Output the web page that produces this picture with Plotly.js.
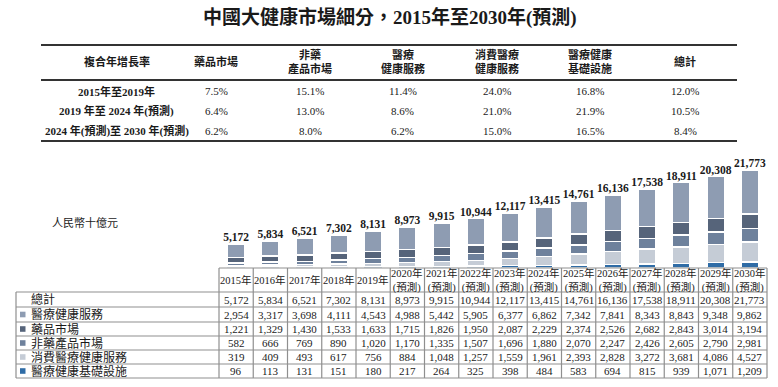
<!DOCTYPE html>
<html>
<head>
<meta charset="utf-8">
<script src="https://cdn.plot.ly/plotly-3.0.1.min.js"></script>
<style>html,body{margin:0;padding:0;background:#fff;}#chart{width:778px;height:387px;}</style>
</head>
<body>
<div id="chart"></div>
<script>
// ---------- DATA ----------
const years = ['2015年','2016年','2017年','2018年','2019年','2020年','2021年','2022年','2023年','2024年','2025年','2026年','2027年','2028年','2029年','2030年'];
const yearHeaders = ['2015年','2016年','2017年','2018年','2019年','2020年<br>(預測)','2021年<br>(預測)','2022年<br>(預測)','2023年<br>(預測)','2024年<br>(預測)','2025年<br>(預測)','2026年<br>(預測)','2027年<br>(預測)','2028年<br>(預測)','2029年<br>(預測)','2030年<br>(預測)'];
const total        = [5172,5834,6521,7302,8131,8973,9915,10944,12117,13415,14761,16136,17538,18911,20308,21773];
const healthService= [2954,3317,3698,4111,4543,4988,5442,5905,6377,6862,7342,7841,8343,8843,9348,9862];
const pharma       = [1221,1329,1430,1533,1633,1715,1826,1950,2087,2229,2374,2526,2682,2843,3014,3194];
const nonPharma    = [582,666,769,890,1020,1170,1335,1507,1696,1880,2070,2247,2426,2605,2790,2981];
const consumer     = [319,409,493,617,756,884,1048,1257,1559,1961,2393,2828,3272,3681,4086,4527];
const infra        = [96,113,131,151,180,217,264,325,398,484,583,694,815,939,1071,1209];
const seriesNames  = ['醫療健康服務','藥品市場','非藥產品市場','消費醫療健康服務','醫療健康基礎設施'];
const totalLabel   = '總計';
const title = '中國大健康市場細分，2015年至2030年(預測)';
const unitLabel = '人民幣十億元';

const cagrHeaders = ['複合年增長率','藥品市場','非藥<br>產品市場','醫療<br>健康服務','消費醫療<br>健康服務','醫療健康<br>基礎設施','總計'];
const cagrPeriods = ['2015年至2019年','2019 年至 2024 年(預測)','2024 年(預測)至 2030 年(預測)'];
const cagr2015_2019 = ['7.5%','15.1%','11.4%','24.0%','16.8%','12.0%'];
const cagr2019_2024 = ['6.4%','13.0%','8.6%','21.0%','21.9%','10.5%'];
const cagr2024_2030 = ['6.2%','8.0%','6.2%','15.0%','16.5%','8.4%'];

// ---------- STYLE ----------
const colors = {hs:'#8e9cb2', ph:'#56647a', np:'#6e819c', cs:'#c5ccd6', inf:'#2f6ca6'};
const SERIF = 'Liberation Serif, "Noto Sans CJK TC", serif';
const W = 778, H = 387;
const px = x => x / W;
const py = y => 1 - y / H;

// table geometry
const colL = 219, colR = 767, nCol = years.length, colW = (colR - colL) / nCol;
const labL = 16;
const hdrTop = 268, rowYs = [292, 307, 322, 336, 350, 364, 378];
const gridColor = '#8f8f8f';

const shapes = [];
const annotations = [];
function hline(x0, x1, y, w, c) { shapes.push({type:'line', xref:'paper', yref:'paper', x0:px(x0), x1:px(x1), y0:py(y), y1:py(y), line:{color:c||gridColor, width:w||1}}); }
function vline(x, y0, y1, w, c) { shapes.push({type:'line', xref:'paper', yref:'paper', x0:px(x), x1:px(x), y0:py(y0), y1:py(y1), line:{color:c||gridColor, width:w||1}}); }
function text(t, x, y, opt) {
  opt = opt || {};
  annotations.push({text:t, xref:'paper', yref:'paper', x:px(x), y:py(y), xanchor:opt.xa||'center', yanchor:'middle', showarrow:false,
    font:{family:SERIF, size:opt.size||11, color:opt.color||'#1a1a1a', weight:opt.bold?'bold':'normal'}});
}

// Title
text(title, 390, 18, {size:19, bold:true});

// CAGR table
hline(41, 737, 45, 2.2, '#333');
hline(41, 737, 80, 2.2, '#333');
hline(41, 737, 141, 2.2, '#333');
const cagrX = [117, 216, 310, 403, 497, 590, 685];
cagrHeaders.forEach((h, i) => text(h, cagrX[i], 62, {bold:true, size:11}));
const cagrRows = [cagr2015_2019, cagr2019_2024, cagr2024_2030];
const cagrY = [91, 111, 131];
cagrPeriods.forEach((p, r) => {
  text(p, cagrX[0], cagrY[r], {bold:true, size:11});
  cagrRows[r].forEach((v, i) => text(v, cagrX[i + 1], cagrY[r], {size:11}));
});

// unit label
text(unitLabel, 50, 222, {xa:'left', size:11});

// data table grid
hline(colL, colR, hdrTop, 1.2);
rowYs.forEach(y => hline(labL, colR, y, 1.2));
for (let i = 0; i <= nCol; i++) vline(colL + i * colW, hdrTop, rowYs[rowYs.length - 1], 1.2);
vline(labL, rowYs[0], rowYs[rowYs.length - 1], 1.2);

// header row
yearHeaders.forEach((h, i) => text(h, colL + colW * (i + 0.5), 280, {size:10.5}));

// table rows
const tableRows = [
  {name: totalLabel, vals: total, color: null},
  {name: seriesNames[0], vals: healthService, color: colors.hs},
  {name: seriesNames[1], vals: pharma, color: colors.ph},
  {name: seriesNames[2], vals: nonPharma, color: colors.np},
  {name: seriesNames[3], vals: consumer, color: colors.cs},
  {name: seriesNames[4], vals: infra, color: colors.inf}
];
tableRows.forEach((row, r) => {
  const cy = (rowYs[r] + rowYs[r + 1]) / 2;
  if (row.color) {
    shapes.push({type:'rect', xref:'paper', yref:'paper', x0:px(20), x1:px(25.5), y0:py(cy + 2.8), y1:py(cy - 2.8), fillcolor:row.color, line:{width:0}});
  }
  text(row.name, 28.5, cy, {xa:'left', size:12});
  row.vals.forEach((v, i) => text(v.toLocaleString('en-US'), colL + colW * (i + 0.5), cy, {size:11}));
});

// ---------- BARS ----------
const stack = [
  {name: seriesNames[4], y: infra, c: colors.inf},
  {name: seriesNames[3], y: consumer, c: colors.cs},
  {name: seriesNames[2], y: nonPharma, c: colors.np},
  {name: seriesNames[1], y: pharma, c: colors.ph},
  {name: seriesNames[0], y: healthService, c: colors.hs}
];
const traces = stack.map(s => ({
  type:'bar', x: years, y: s.y, name: s.name,
  marker:{color: s.c, line:{color:'#ffffff', width:1.5}},
  hoverinfo:'x+y+name'
}));
// total labels
traces.push({
  type:'scatter', mode:'text', x: years, y: total,
  text: total.map(v => v.toLocaleString('en-US')),
  textposition:'top center',
  textfont:{family:SERIF, size:11.5, color:'#1a1a1a', weight:'bold'},
  hoverinfo:'skip', showlegend:false, cliponaxis:false
});

const layout = {
  width: W, height: H,
  margin:{l:0, r:0, t:0, b:0},
  paper_bgcolor:'#fff', plot_bgcolor:'#fff',
  barmode:'stack', bargap: 0.49,
  showlegend:false,
  xaxis:{domain:[px(colL), px(colR)], range:[-0.5, nCol - 0.5], type:'category', showticklabels:false, showgrid:false, zeroline:false, showline:false, ticks:''},
  yaxis:{domain:[py(267.5), py(150)], range:[0, 26200], showticklabels:false, showgrid:false, zeroline:false, showline:false, ticks:''},
  shapes: shapes,
  annotations: annotations
};

Plotly.newPlot('chart', traces, layout, {displayModeBar:false, staticPlot:true});
</script>
</body>
</html>
